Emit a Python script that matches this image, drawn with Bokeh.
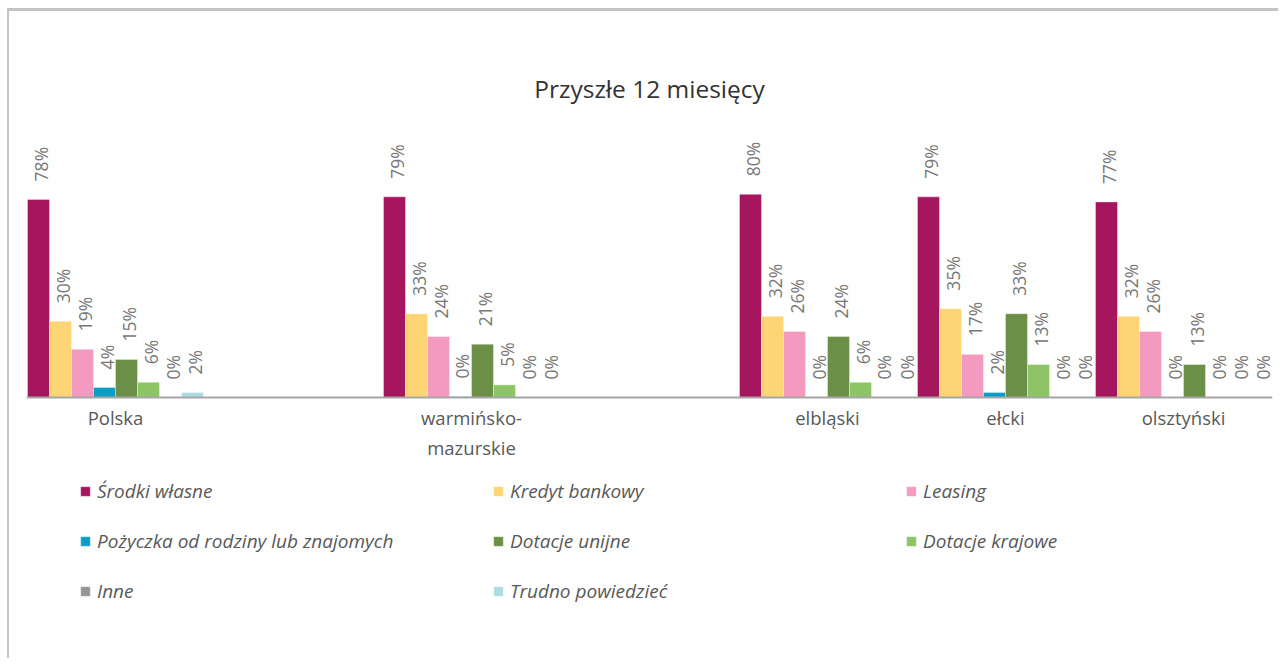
import math
from bokeh.plotting import figure
from bokeh.models import ColumnDataSource, FactorRange, Legend, LegendItem
from bokeh.transform import dodge
from bokeh.embed import file_html
from bokeh.resources import INLINE

# ---- data ----
regions = ["Polska", "warmińsko-\nmazurskie", "elbląski", "ełcki", "olsztyński"]
axis_factors = ["Polska", " ", "warmińsko-\nmazurskie", "  ", "elbląski", "ełcki", "olsztyński"]

series_names = ["Środki własne", "Kredyt bankowy", "Leasing",
                "Pożyczka od rodziny lub znajomych", "Dotacje unijne", "Dotacje krajowe",
                "Inne", "Trudno powiedzieć"]
srodki = [78, 79, 80, 79, 77]
kredyt = [30, 33, 32, 35, 32]
leasing = [19, 24, 26, 17, 26]
pozyczka = [4, 0.4, 0, 2, 0]
unijne = [15, 21, 24, 33, 13]
krajowe = [6, 5, 6, 13, 0]
inne = [0, 0, 0, 0, 0]
trudno = [2, 0, 0, 0, 0]
series_values = [srodki, kredyt, leasing, pozyczka, unijne, krajowe, inne, trudno]
colors = ["#A6165E", "#FDD574", "#F49AC1", "#0A9EC7", "#6B8F46", "#8CC466", "#939598", "#ACDCE3"]

FONT = "Open Sans"

p = figure(width=1271, height=650, x_range=FactorRange(*axis_factors, range_padding=0),
           y_range=(-103.9, 112.2), output_backend="svg", toolbar_location=None,
           min_border_left=17, min_border_right=8, min_border_top=101, min_border_bottom=0)
p.styles = {"margin-top": "8px", "margin-left": "7px",
            "border-top": "3px solid #c4c4c4", "border-left": "2px solid #c4c4c4"}

p.title.text = "Przyszłe 12 miesięcy"
p.title.align = "center"
p.title.text_font = FONT
p.title.text_font_size = "24.5px"
p.title.text_font_style = "normal"
p.title.text_color = "#333333"
p.title.standoff = 16

n = len(series_names)
w = 22 / 178
items = []
for i, (name, vals, col) in enumerate(zip(series_names, series_values, colors)):
    off = (i - (n - 1) / 2) * w
    src = ColumnDataSource(dict(x=regions, top=vals, label=[f"{round(v)}%" for v in vals]))
    r = p.vbar(x=dodge("x", off, range=p.x_range), top="top", width=w, source=src,
               fill_color=col, line_color="white", line_width=0.6, line_alpha=0.6)
    p.text(x=dodge("x", off, range=p.x_range), y="top", text="label", source=src,
           angle=math.pi / 2, text_align="left", text_baseline="middle",
           y_offset=-18, x_offset=2, text_font_size="17.5px", text_color="#777777",
           text_font={"value": FONT})
    items.append(LegendItem(label=name, renderers=[r]))

legend = Legend(items=items, ncols=3, orientation="horizontal", location=(53, 57),
                padding=0, margin=0, border_line_color=None, background_fill_alpha=0,
                glyph_width=12, glyph_height=12, label_standoff=6, label_width=371,
                label_height=20, spacing=24,
                label_text_font=FONT, label_text_font_size="19px",
                label_text_font_style="italic", label_text_color="#595959")
p.add_layout(legend, "center")

p.yaxis.visible = False
p.xgrid.grid_line_color = None
p.ygrid.grid_line_color = None
p.outline_line_color = None
p.xaxis.fixed_location = 0
p.xaxis.axis_line_color = "#A6A6A6"
p.xaxis.axis_line_width = 2
p.xaxis.major_tick_line_color = None
p.xaxis.minor_tick_line_color = None
p.xaxis.major_label_standoff = 1
p.xaxis.major_label_text_font = FONT
p.xaxis.major_label_text_font_size = "18.5px"
p.xaxis.major_label_text_color = "#595959"

open("out.html", "w").write(file_html(p, INLINE))
